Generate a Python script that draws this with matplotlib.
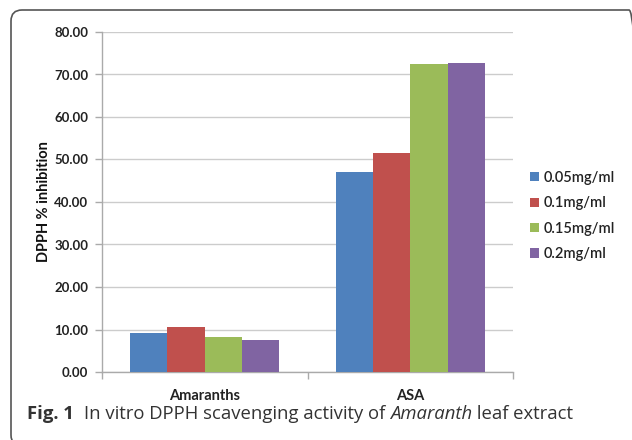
import matplotlib
matplotlib.use("Agg")
import matplotlib.pyplot as plt
import numpy as np
from matplotlib.patches import FancyBboxPatch
from matplotlib.transforms import IdentityTransform

# Data
categories = ["Amaranths", "ASA"]
series_labels = ["0.05mg/ml", "0.1mg/ml", "0.15mg/ml", "0.2mg/ml"]
v_005 = [9.1, 47.1]
v_01 = [10.6, 51.5]
v_015 = [8.2, 72.5]
v_02 = [7.5, 72.6]
series_values = [v_005, v_01, v_015, v_02]
yticks = [0, 10, 20, 30, 40, 50, 60, 70, 80]

colors = ["#4F81BD", "#C0504D", "#9BBB59", "#8064A2"]

W, H, DPI = 632, 440, 100
fig = plt.figure(figsize=(W / DPI, H / DPI), dpi=DPI)
fig.patch.set_facecolor("white")

# rounded frame around the figure panel (pixel coordinates)
frame = FancyBboxPatch((11, -6), 640 - 11, H - 10 + 6,
                       boxstyle="round,pad=0,rounding_size=11",
                       transform=IdentityTransform(), fill=False,
                       edgecolor="#555555", linewidth=1.2, clip_on=False)
fig.patches.append(frame)

ax = fig.add_axes([102 / W, (H - 372) / H, (513 - 102) / W, (372 - 32) / H])

font = "Lato"
x = np.arange(len(categories))
w = 1 / 5.5
for i, (lab, vals) in enumerate(zip(series_labels, series_values)):
    ax.bar(x + (i - 1.5) * w, vals, width=w, color=colors[i], label=lab,
           zorder=3, linewidth=0)

ax.set_xlim(-0.5, 1.5)
ax.set_ylim(0, 80)
ax.set_yticks(yticks)
ax.set_yticklabels([f"{t:.2f}" for t in yticks], fontfamily=font,
                   fontweight="bold", fontsize=9.5, color="#222222")
ax.yaxis.grid(True, color="#cccccc", linewidth=1, zorder=0)
ax.set_axisbelow(True)

ax.set_xticks(x)
ax.set_xticklabels(categories, fontfamily=font, fontweight="bold",
                   fontsize=10.5, color="#222222")
ax.set_xticks([-0.5, 0.5, 1.5], minor=True)
ax.tick_params(axis="x", which="major", length=0, pad=12)
ax.tick_params(axis="x", which="minor", length=5, color="#aaaaaa", width=1)
ax.tick_params(axis="y", length=5, color="#aaaaaa", width=1, pad=5)

for s in ["top", "right"]:
    ax.spines[s].set_visible(False)
for s in ["left", "bottom"]:
    ax.spines[s].set_color("#aaaaaa")
    ax.spines[s].set_linewidth(1)

ax.set_ylabel("DPPH % inhibition", fontfamily=font, fontweight="bold",
              fontsize=10.5, color="#111111", labelpad=2)

leg = fig.legend(loc="center left", bbox_to_anchor=(517 / W, 1 - 216 / H),
                 frameon=False, handlelength=0.6, handleheight=0.6,
                 handletextpad=0.35, labelspacing=0.78,
                 prop={"family": font, "size": 10.5, "weight": "semibold"})
for t in leg.get_texts():
    t.set_color("#222222")

# caption
cap_font = "Open Sans"
cap_y = 1 - 414 / H
renderer = fig.canvas.get_renderer()
parts = [("Fig. 1", "bold", "normal", 0),
         ("In vitro DPPH scavenging activity of ", "normal", "normal", 10),
         ("Amaranth", "normal", "italic", 0),
         (" leaf extract", "normal", "normal", 0)]
xpos = 27
for txt, weight, style, gap in parts:
    xpos += gap
    t = fig.text(xpos / W, cap_y, txt, fontfamily=cap_font, fontweight=weight,
                 fontstyle=style, fontsize=13.3, color="#333333", va="center",
                 ha="left")
    bb = t.get_window_extent(renderer=renderer)
    xpos = bb.x1

fig.savefig("out.png", dpi=DPI, facecolor="white")
